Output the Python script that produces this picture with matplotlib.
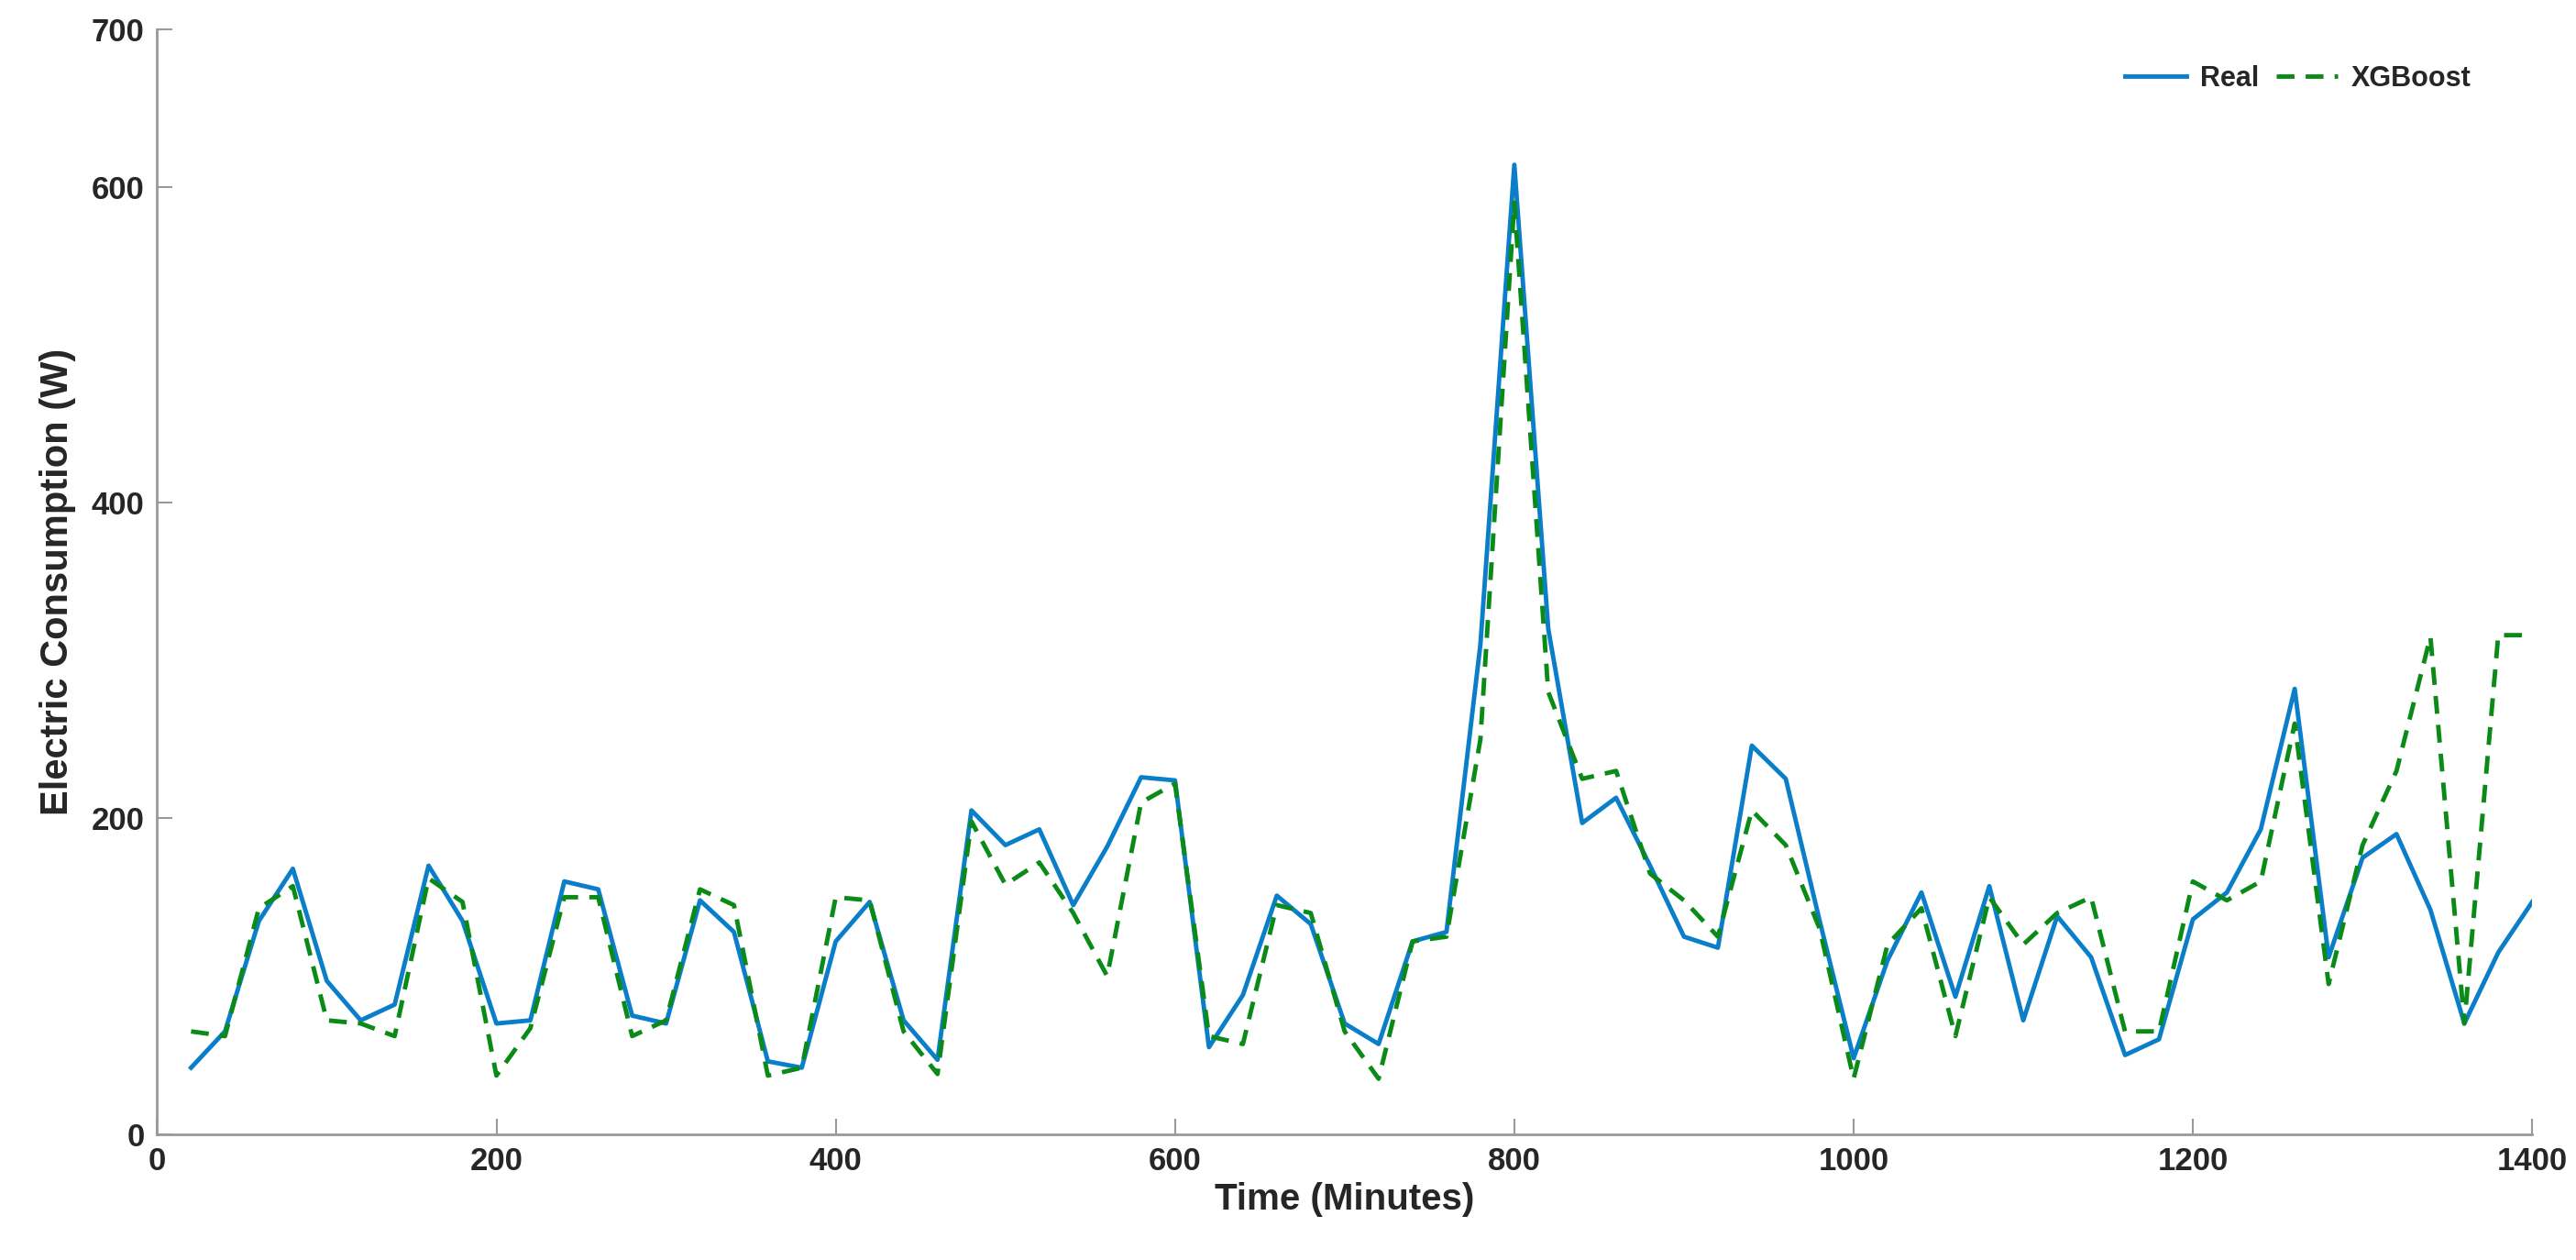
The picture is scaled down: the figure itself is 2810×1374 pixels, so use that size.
import numpy as np
import matplotlib
matplotlib.use('Agg')
import matplotlib.pyplot as plt

plt.rcParams['font.family'] = ['Liberation Sans', 'DejaVu Sans']

# time axis, one sample every 20 minutes
time_min = np.arange(20, 1401, 20)

real = [42, 65, 135, 168, 97, 72, 82, 170, 135, 70,
        72, 160, 155, 75, 70, 148, 128, 46, 42, 122,
        147, 72, 47, 205, 183, 193, 145, 182, 226, 224,
        55, 88, 151, 133, 70, 57, 122, 128, 310, 614,
        320, 197, 213, 170, 125, 118, 246, 225, 135, 48,
        110, 153, 87, 157, 72, 138, 112, 50, 60, 136,
        153, 193, 282, 112, 175, 190, 142, 70, 115, 147]

xgboost = [65, 62, 143, 157, 72, 70, 62, 162, 147, 37,
           67, 150, 150, 62, 72, 155, 145, 37, 42, 150,
           148, 65, 38, 198, 158, 172, 140, 100, 210, 222,
           62, 57, 145, 140, 65, 35, 122, 125, 250, 590,
           280, 225, 230, 165, 148, 125, 205, 183, 130, 35,
           120, 143, 62, 150, 120, 140, 150, 65, 65, 160,
           148, 160, 260, 95, 183, 230, 315, 70, 316, 316]

fig = plt.figure(figsize=(28.1, 13.74), dpi=100)
ax = fig.add_axes([0.061, 0.10, 0.922, 0.877])

ax.plot(time_min, real, '-', color='#0a7ec8', lw=3.5, label='Real')
ax.plot(time_min, xgboost, '--', color='#0a8a16', lw=3.5, dashes=(4, 2.5), label='XGBoost')

ax.set_xlim(0, 1400)
ax.set_ylim(0, 700)
ax.set_xticks(range(0, 1401, 200))
ax.set_yticks([0, 200, 400, 600, 700])
ax.tick_params(direction='in', length=12, width=1.5, color='#999999',
               labelsize=25, labelcolor='#262626', pad=10)
for lbl in ax.get_xticklabels() + ax.get_yticklabels():
    lbl.set_fontweight('bold')
for side in ['top', 'right']:
    ax.spines[side].set_visible(False)
for side in ['left', 'bottom']:
    ax.spines[side].set_color('#999999')
    ax.spines[side].set_linewidth(2)

ax.set_xlabel('Time (Minutes)', fontsize=29, fontweight='bold', color='#262626', labelpad=4)
ax.set_ylabel('Electric Consumption (W)', fontsize=30, fontweight='bold', color='#262626', labelpad=12)

leg = ax.legend(loc='upper right', ncol=2, frameon=False, fontsize=22,
                handlelength=2.2, columnspacing=0.6, handletextpad=0.5,
                bbox_to_anchor=(0.985, 0.99))
for t in leg.get_texts():
    t.set_fontweight('bold')
    t.set_color('#262626')

fig.savefig('out.png', dpi=100)
